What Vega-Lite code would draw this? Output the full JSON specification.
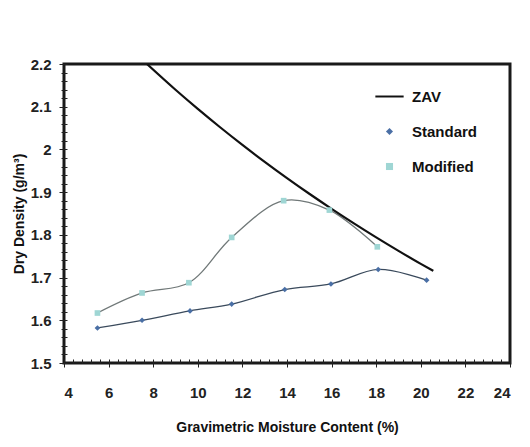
{
  "$schema": "https://vega.github.io/schema/vega-lite/v6.json",
  "width": 446,
  "height": 299,
  "autosize": "none",
  "padding": {"left": 64, "top": 64, "right": 20, "bottom": 84},
  "background": "white",
  "config": {
    "font": "Liberation Sans",
    "view": {"stroke": "#1a1a1a", "strokeWidth": 3},
    "axis": {
      "labelFont": "Liberation Sans",
      "labelFontSize": 15,
      "labelFontWeight": "bold",
      "labelColor": "#222",
      "titleFont": "Liberation Sans",
      "titleFontSize": 14,
      "titleFontWeight": "bold",
      "titleColor": "#111",
      "tickColor": "#222",
      "grid": false,
      "domain": false
    },
    "legend": {
      "orient": "none",
      "legendX": 318,
      "legendY": 25,
      "padding": 0,
      "symbolSize": 50,
      "symbolStrokeWidth": 0,
      "labelFont": "Liberation Sans",
      "labelFontSize": 15,
      "labelFontWeight": "bold",
      "labelColor": "#111",
      "labelOffset": 15,
      "rowPadding": 19,
      "title": null
    }
  },
  "datasets": {
    "zav": [
      {"w": 7.72, "d": 2.2},
      {"w": 9, "d": 2.1397},
      {"w": 10, "d": 2.0949},
      {"w": 11, "d": 2.0519},
      {"w": 12, "d": 2.0106},
      {"w": 13, "d": 1.971},
      {"w": 14, "d": 1.9329},
      {"w": 15, "d": 1.8962},
      {"w": 16, "d": 1.861},
      {"w": 17, "d": 1.827},
      {"w": 18, "d": 1.7942},
      {"w": 19, "d": 1.7626},
      {"w": 20, "d": 1.732},
      {"w": 20.56, "d": 1.7157}
    ],
    "pts": [
      {"series": "Standard", "w": 5.5, "d": 1.582},
      {"series": "Standard", "w": 7.5, "d": 1.6},
      {"series": "Standard", "w": 9.65, "d": 1.622},
      {"series": "Standard", "w": 11.52, "d": 1.638},
      {"series": "Standard", "w": 13.9, "d": 1.672},
      {"series": "Standard", "w": 15.97, "d": 1.685},
      {"series": "Standard", "w": 18.09, "d": 1.719},
      {"series": "Standard", "w": 20.26, "d": 1.694},
      {"series": "Modified", "w": 5.5, "d": 1.617},
      {"series": "Modified", "w": 7.5, "d": 1.664},
      {"series": "Modified", "w": 9.6, "d": 1.688},
      {"series": "Modified", "w": 11.52, "d": 1.794},
      {"series": "Modified", "w": 13.85, "d": 1.88},
      {"series": "Modified", "w": 15.9, "d": 1.858},
      {"series": "Modified", "w": 18.05, "d": 1.772}
    ]
  },
  "layer": [
    {
      "data": {"name": "pts"},
      "transform": [{"filter": "datum.series == 'Standard'"}],
      "mark": {"type": "line", "interpolate": "catmull-rom", "color": "#3a4a5c", "strokeWidth": 1.3},
      "encoding": {
        "x": {"field": "w", "type": "quantitative", "scale": {"domain": [4, 24], "nice": false},
          "axis": {"orient": "bottom", "values": [4,4.4,4.8,5.2,5.6,6,6.4,6.8,7.2,7.6,8,8.4,8.8,9.2,9.6,10,10.4,10.8,11.2,11.6,12,12.4,12.8,13.2,13.6,14,14.4,14.8,15.2,15.6,16,16.4,16.8,17.2,17.6,18,18.4,18.8,19.2,19.6,20,20.4,20.8,21.2,21.6,22,22.4,22.8,23.2,23.6,24],
            "labels": false, "title": null, "tickSize": 4, "offset": -4}},
        "y": {"field": "d", "type": "quantitative", "scale": {"domain": [1.5, 2.2], "nice": false, "zero": false},
          "axis": {"orient": "left", "values": [1.5,1.52,1.54,1.56,1.58,1.6,1.62,1.64,1.66,1.68,1.7,1.72,1.74,1.76,1.78,1.8,1.82,1.84,1.86,1.88,1.9,1.92,1.94,1.96,1.98,2,2.02,2.04,2.06,2.08,2.1,2.12,2.14,2.16,2.18,2.2],
            "labels": false, "title": null, "tickSize": 6, "offset": -3}}
      }
    },
    {
      "data": {"name": "pts"},
      "transform": [{"filter": "datum.series == 'Modified'"}],
      "mark": {"type": "line", "interpolate": "catmull-rom", "color": "#707878", "strokeWidth": 1.3},
      "encoding": {
        "x": {"field": "w", "type": "quantitative", "axis": null},
        "y": {"field": "d", "type": "quantitative", "axis": null}
      }
    },
    {
      "data": {"name": "zav"},
      "mark": {"type": "line", "interpolate": "monotone", "color": "#111", "strokeWidth": 2.2, "clip": true},
      "encoding": {
        "x": {"field": "w", "type": "quantitative",
          "axis": {"orient": "bottom", "values": [4,6,8,10,12,14,16,18,20,22,24], "format": "~g",
            "title": "Gravimetric Moisture Content (%)", "tickSize": 4, "labelPadding": 18, "titlePadding": 20}},
        "y": {"field": "d", "type": "quantitative",
          "axis": {"orient": "left", "values": [1.5,1.6,1.7,1.8,1.9,2,2.1,2.2], "format": "~g",
            "title": "Dry Density (g/m³)", "tickSize": 5, "labelPadding": 8, "titlePadding": 4}}
      }
    },
    {
      "data": {"name": "pts"},
      "mark": {"type": "point", "filled": true, "opacity": 1},
      "encoding": {
        "x": {"field": "w", "type": "quantitative", "axis": null},
        "y": {"field": "d", "type": "quantitative", "axis": null},
        "color": {"field": "series", "type": "nominal",
          "scale": {"domain": ["ZAV", "Standard", "Modified"], "range": ["#111111", "#4a6fa5", "#9fd6d4"]},
          "legend": {}},
        "shape": {"field": "series", "type": "nominal",
          "scale": {"domain": ["ZAV", "Standard", "Modified"], "range": ["M-4,-0.28H4V0.28H-4Z", "diamond", "square"]}},
        "size": {"value": 32}
      }
    }
  ],
  "resolve": {"axis": {"x": "independent", "y": "independent"}}
}
